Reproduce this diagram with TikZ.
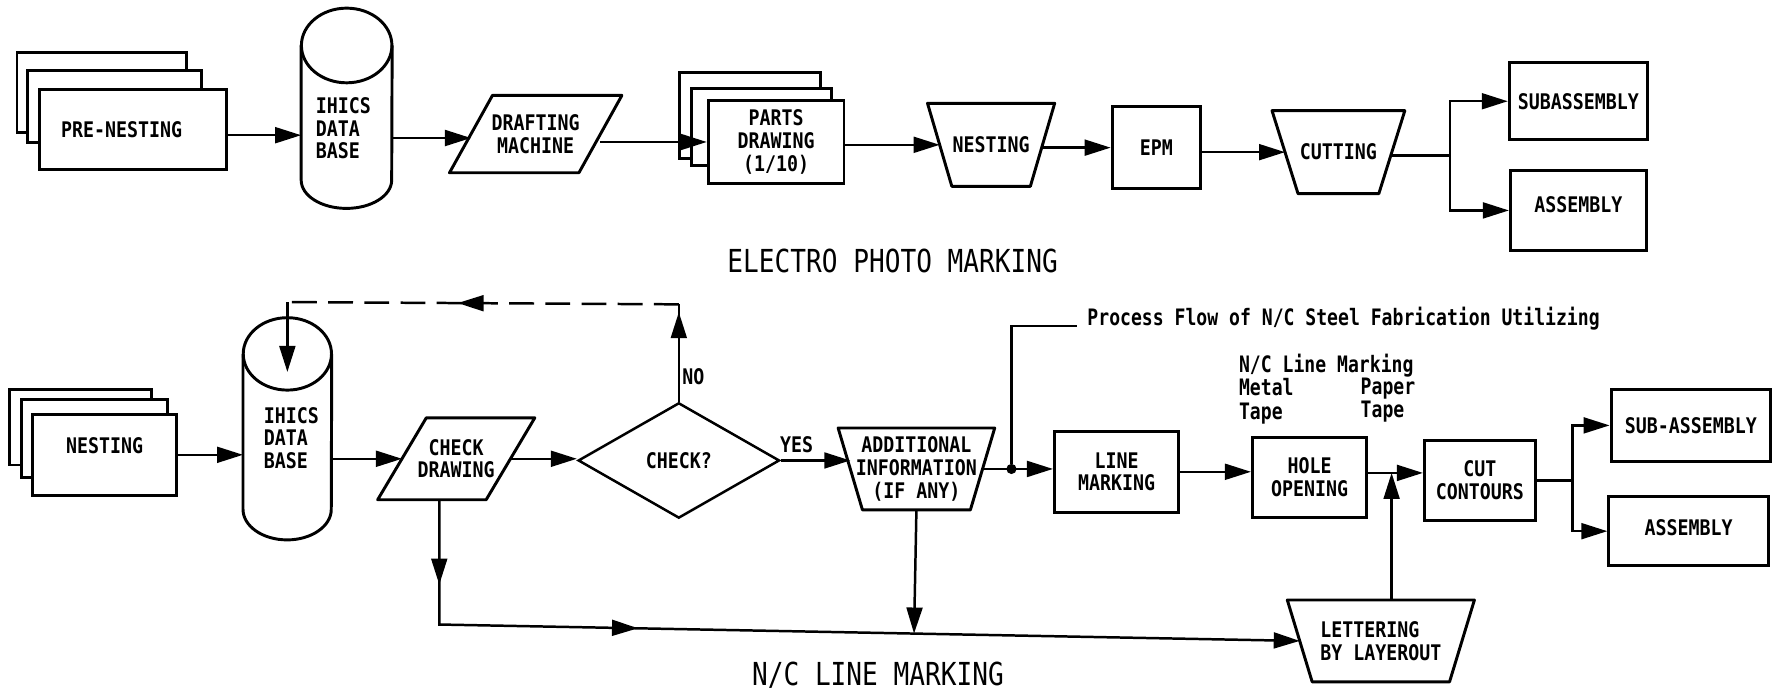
\documentclass[tikz,border=0pt]{standalone}
\usepackage{fontspec}
\usetikzlibrary{arrows.meta,shapes.geometric,calc,decorations.markings}
\newfontfamily\lblfont[FakeStretch=0.85]{DejaVu Sans Mono}
\newfontfamily\ttlfont[FakeStretch=0.825]{DejaVu Sans Mono}
\newfontfamily\notefont[FakeStretch=0.8]{DejaVu Sans Mono}
\newcommand{\trapzd}[2]{\draw[shapeline] ([xshift=-#2]#1.north west) -- ([xshift=#2]#1.north east) -- ([xshift=-#2]#1.south east) -- ([xshift=#2]#1.south west) -- cycle;}
\newcommand{\parlg}[2]{\draw[shapeline] ([xshift=#2]#1.north west) -- ([xshift=#2]#1.north east) -- ([xshift=-#2]#1.south east) -- ([xshift=-#2]#1.south west) -- cycle;}
% #1 node, #2 top radius y, #3 radius x, #4 bottom radius y
\newcommand{\cylo}[4]{\draw[shapeline] ([yshift=-#2]#1.north) ellipse [x radius=#3, y radius=#2];
 \draw[shapeline] ([yshift=-#2]#1.north west) -- ([yshift=#4]#1.south west) arc [start angle=180, end angle=360, x radius=#3, y radius=#4] -- ([yshift=-#2]#1.north east);}
\tikzset{
 lbl/.style={inner sep=0pt, font=\lblfont\bfseries\fontsize{19}{20}\selectfont},
 shapeline/.style={line width=2.6pt, line join=round},
 box/.style={lbl, draw, line width=2.6pt, fill=white, align=center},
 ghost/.style={lbl, align=center},
 note/.style={inner sep=0pt, font=\notefont\bfseries\fontsize{20}{20.5}\selectfont},
 ttl/.style={inner sep=0pt, font=\ttlfont\fontsize{28}{30}\selectfont},
 decision/.style={lbl, draw, diamond, line width=2.2pt, minimum width=178pt, minimum height=102pt, aspect=1.745},
 conn/.style={line width=2.2pt},
 arr/.style={conn, -{Triangle[length=23pt,width=14pt]}},
 midarr/.style={postaction={decorate}, decoration={markings, mark=at position #1 with {\arrow{Triangle[length=23pt,width=14pt]}}}},
}
\begin{document}
\begin{tikzpicture}[x=1pt,y=-1pt]
\fill[white] (0,0) rectangle (1568,612);
\useasboundingbox (0,0) rectangle (1568,612);

% ---------------- top row ----------------
\node[box, minimum width=150pt, minimum height=71pt] (pn3) at (90,81.5) {};
\node[box, minimum width=154pt, minimum height=64pt] (pn2) at (101,94) {};
\node[box, minimum width=165pt, minimum height=71pt] (pn1) at (117.5,114.5) {PRE-NESTING\hspace*{20pt}};

\node[ghost, minimum width=80pt, minimum height=176.6pt] (cyl1) at (306.4,95.7) {};
\cylo{cyl1}{33pt}{40pt}{25pt}
\node[lbl, anchor=west, align=left] (tcyl1) at (279,113.5) {IHICS\\DATA\\BASE};

\node[ghost, minimum width=114pt, minimum height=68pt] (dm) at (473.5,118.5) {DRAFTING\\MACHINE};
\parlg{dm}{19pt}

\node[box, minimum width=124pt, minimum height=76pt] (pd3) at (663,102) {};
\node[box, minimum width=124pt, minimum height=68pt] (pd2) at (673,112) {};
\node[box, minimum width=120pt, minimum height=74pt] (pd1) at (686,125.5) {PARTS\\DRAWING\\(1/10)};

\node[ghost, minimum width=90.5pt, minimum height=73pt] (nest) at (876,128) {NESTING};
\trapzd{nest}{10.75pt}

\node[box, minimum width=78pt, minimum height=73pt] (epm) at (1022,130.5) {EPM};

\node[ghost, minimum width=94pt, minimum height=73pt] (cut) at (1183,134.5) {CUTTING};
\trapzd{cut}{11.5pt}

\node[box, minimum width=122pt, minimum height=68pt] (sub) at (1395,89.5) {SUBASSEMBLY};
\node[box, minimum width=120pt, minimum height=70pt] (asm) at (1395,186) {\raisebox{10pt}{ASSEMBLY}};
\coordinate (b1) at (1281.5,137.5);

\node[ttl] (epmt) at (789,231) {ELECTRO PHOTO MARKING};

\coordinate (a1) at ([yshift=-5pt]pn1.east);
\draw[arr] (a1) -- (a1 -| cyl1.west);
\coordinate (a2) at ([yshift=-3.5pt]dm.west);
\draw[arr] (a2 -| cyl1.east) -- (a2);
\draw[arr] (pd1.west -| dm.east) -- (pd1.west);
\draw[arr] (nest.west -| pd1.east) -- (nest.west);
\draw[arr] (epm.west -| nest.east) -- (epm.west);
\draw[arr] (cut.west -| epm.east) -- (cut.west);
\draw[conn] (cut.east |- b1) -- (b1);
\draw[arr] (b1) |- (sub.west);
\draw[arr] (b1) |- (asm.west);

% ---------------- bottom row ----------------
\node[box, minimum width=126pt, minimum height=67pt] (n3) at (71,377.5) {};
\node[box, minimum width=129pt, minimum height=69pt] (n2) at (83.5,387.5) {};
\node[box, minimum width=127pt, minimum height=72pt] (n1) at (92.5,402) {\raisebox{16pt}{NESTING}};

\node[ghost, minimum width=78pt, minimum height=196pt] (cyl2) at (254,379) {};
\cylo{cyl2}{32pt}{39pt}{27pt}
\node[lbl, anchor=west, align=left] (tcyl2) at (233,387) {IHICS\\DATA\\BASE};

\node[ghost, minimum width=95.5pt, minimum height=72pt] (chk) at (403.25,405.5) {CHECK\\DRAWING};
\parlg{chk}{21.5pt}

\node[decision] (dia) at (600,407) {CHECK?};
\node[lbl, anchor=west] (no) at (603,333) {NO};
\node[lbl] (yes) at (704,393) {YES};

\node[ghost, minimum width=116.5pt, minimum height=72pt] (add) at (810,414.5) {ADDITIONAL\\INFORMATION\\(IF ANY)};
\trapzd{add}{10.75pt}

\node[circle, fill, inner sep=0pt, minimum size=9pt] (dot) at (894,414.5) {};

\node[box, minimum width=110pt, minimum height=72pt] (lm) at (987,417) {LINE\\MARKING};
\node[box, minimum width=101pt, minimum height=70pt] (ho) at (1157.5,422) {HOLE\\OPENING};
\node[box, minimum width=98pt, minimum height=71pt] (cc) at (1308,424.5) {CUT\\CONTOURS};
\node[box, minimum width=141pt, minimum height=64pt] (ssub) at (1494.5,376) {SUB-ASSEMBLY};
\node[box, minimum width=141pt, minimum height=61pt] (sasm) at (1492.5,469.5) {\raisebox{6pt}{ASSEMBLY}};

\node[ghost, minimum width=143pt, minimum height=72pt, align=left] (let) at (1220.5,566.5) {LETTERING\\BY LAYEROUT};
\trapzd{let}{11pt}

\node[note, anchor=base west] (proc) at (961,288) {Process Flow of N/C Steel Fabrication Utilizing};
\node[note, anchor=north west, align=left] (nclm) at (1095,313) {N/C Line Marking\\Metal\\Tape};
\node[note, anchor=north west, align=left] (paper) at (1202.5,334) {Paper\\Tape};

\node[ttl] (nct) at (776,597) {N/C LINE MARKING};

\coordinate (jn) at (1230,418);
\coordinate (b2) at (1390,424.5);
\coordinate (fbR) at (600,269);
\coordinate (fbL) at (254,267);
\coordinate (cB) at (388.25,552);
\coordinate (cylin) at ([yshift=-48pt]cyl2.north);

\draw[arr] (n1.east) -- (n1.east -| cyl2.west);
\draw[arr] (chk.west -| cyl2.east) -- (chk.west);
\draw[arr] (chk.east) -- (chk.east -| dia.west);
\draw[arr] (dia.east) -- (dia.east -| add.west);
\draw[conn, midarr=79pt] (dia.north) -- (fbR);
\draw[conn, dash pattern=on 22pt off 10pt, midarr=0.565] (fbR) -- (fbL);
\draw[arr] (fbL) -- (cylin);
\draw[arr] (add.east) -- (add.east -| lm.west);
\draw[conn] (dot) |- ([xshift=-9pt]proc.base west);
\draw[arr] (lm.east) -- (lm.east -| ho.west);
\draw[conn] (ho.east |- jn) -- (jn);
\draw[arr] (jn) -- (jn -| cc.west);
\draw[arr] (let.north -| jn) -- (jn);
\draw[conn] (cc.east) -- (b2);
\draw[arr] (b2) |- (ssub.west);
\draw[arr] (b2) |- (sasm.west);
\draw[arr, postaction={decorate}, decoration={markings,
   mark=at position 75pt with {\arrow{Triangle[length=23pt,width=14pt]}},
   mark=at position 286pt with {\arrow{Triangle[length=23pt,width=14pt]}}}]
   (chk.south -| cB) -- (cB) -- (let.west);
\draw[arr] (add.south) -- ($(cB)!(add.south)!(let.west)$);
\end{tikzpicture}
\end{document}
